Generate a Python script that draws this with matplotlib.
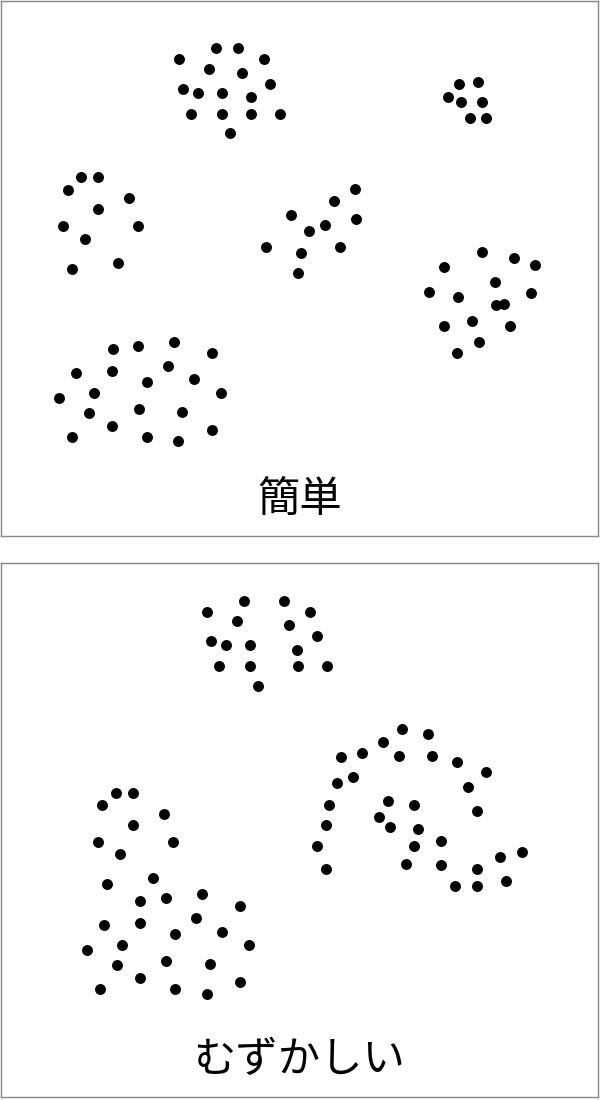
import matplotlib
matplotlib.use("Agg")
import matplotlib.pyplot as plt

plt.rcParams['font.family'] = ['Noto Sans CJK JP', 'DejaVu Sans']

# Top panel ("簡単") points
easy_x = [216, 238, 179, 264, 209, 242, 270, 183, 198, 222, 251, 191, 222, 251, 280, 230,
          459, 478, 448, 461, 482, 470, 486,
          81, 98, 68, 129, 98, 63, 138, 85, 118, 72,
          355, 334, 291, 356, 325, 309, 266, 340, 301, 298,
          482, 514, 535, 444, 495, 429, 531, 458, 496, 504, 472, 444, 510, 479, 457,
          113, 138, 174, 212, 76, 112, 168, 147, 194, 59, 94, 221, 89, 139, 182, 112, 212, 72, 147, 178]
easy_y = [48, 48, 59, 59, 69, 73, 84, 89, 93, 93, 97, 114, 114, 114, 114, 133,
          84, 82, 97, 102, 102, 118, 118,
          177, 177, 190, 198, 209, 226, 226, 239, 263, 269,
          189, 201, 215, 219, 225, 231, 247, 247, 253, 273,
          252, 258, 265, 267, 282, 292, 293, 297, 305, 304, 321, 326, 326, 342, 353,
          349, 346, 342, 353, 373, 371, 366, 382, 379, 398, 393, 393, 413, 409, 412, 426, 430, 437, 437, 441]

# Bottom panel ("むずかしい") points
hard_x = [244, 284, 207, 310, 237, 289, 211, 317, 226, 250, 297, 219, 250, 298, 327, 258,
          402, 428, 383, 362, 341, 399, 432, 457, 486, 353, 337, 468, 388, 414, 329, 477,
          379, 390, 326, 418, 317, 414, 441, 500, 522, 406, 441, 477, 326, 455, 477, 506,
          116, 133, 102, 164, 133, 98, 173, 120, 153, 107, 140, 166, 202, 240, 104, 140,
          196, 175, 222, 87, 122, 249, 117, 166, 210, 140, 100, 175, 207, 240]
hard_y = [601, 601, 612, 612, 621, 625, 641, 636, 645, 645, 650, 666, 666, 666, 666, 686,
          729, 734, 742, 753, 757, 756, 756, 762, 772, 777, 783, 787, 801, 805, 805, 811,
          817, 827, 825, 829, 846, 846, 841, 857, 852, 864, 865, 869, 869, 886, 886, 881,
          793, 793, 805, 814, 825, 842, 842, 854, 878, 884, 901, 898, 894, 906, 925, 923,
          918, 934, 932, 950, 945, 945, 965, 961, 964, 978, 989, 989, 994, 982]

labels = ["簡単", "むずかしい"]

fig = plt.figure(figsize=(6, 11), dpi=100)
W, H = 600, 1100

panels = [
    (1, 598, 1, 536, easy_x, easy_y, labels[0], 500),
    (1, 598, 563, 1097, hard_x, hard_y, labels[1], 1060),
]
for x0, x1, y0, y1, xs, ys, lab, ty in panels:
    ax = fig.add_axes([x0 / W, 1 - y1 / H, (x1 - x0) / W, (y1 - y0) / H])
    ax.set_xlim(x0, x1)
    ax.set_ylim(y1, y0)
    ax.scatter(xs, ys, s=62, color='black', linewidths=0)
    ax.set_xticks([])
    ax.set_yticks([])
    for sp in ax.spines.values():
        sp.set_color('#888888')
        sp.set_linewidth(1.0)
    ax.text((x0 + x1) / 2, ty, lab, ha='center', va='center', fontsize=30.5, color='black')

fig.savefig("out.png", dpi=100, facecolor='white')
